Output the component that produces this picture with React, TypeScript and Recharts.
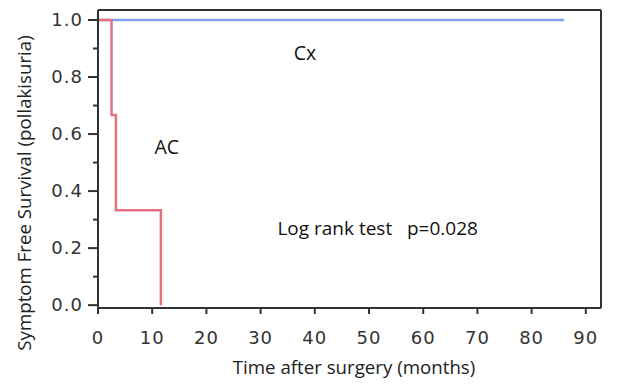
import React from "react";
import {
  LineChart,
  Line,
  XAxis,
  YAxis,
  ReferenceDot,
  ReferenceLine,
} from "recharts";

const acTimes = [0, 2.5, 3.3, 11.6];
const acSurvival = [1, 0.667, 0.333, 0];
const cxTimes = [0, 86];
const cxSurvival = [1, 1];
const xTicks = [0, 10, 20, 30, 40, 50, 60, 70, 80, 90];
const yTicks = [0, 0.1, 0.2, 0.3, 0.4, 0.5, 0.6, 0.7, 0.8, 0.9, 1.0];
const yMajor = [0, 0.2, 0.4, 0.6, 0.8, 1.0];
const xMax = 92.8;
const yMin = -0.01;
const yMax = 1.035;

const acData = acTimes.map((t, i) => ({ t, s: acSurvival[i] }));
const cxData = cxTimes.map((t, i) => ({ t, s: cxSurvival[i] }));

const tickFont = "'DejaVu Sans', sans-serif";
const labelFont = "'Open Sans', sans-serif";
const axisColor = "#333333";

function YTick(props: any) {
  const { x, y, payload } = props;
  const v = payload.value;
  const major = yMajor.some((m) => Math.abs(m - v) < 1e-6);
  return (
    <g>
      <line x1={x - (major ? 10 : 5)} x2={x} y1={y} y2={y} stroke={axisColor} strokeWidth={2} />
      {major && (
        <text
          x={x - 15}
          y={y}
          dy={6}
          textAnchor="end"
          fontFamily={tickFont}
          fontSize={18}
          letterSpacing={1}
          fill="#333"
        >
          {v.toFixed(1)}
        </text>
      )}
    </g>
  );
}

function XTick(props: any) {
  const { x, y, payload } = props;
  return (
    <g>
      <line x1={x} x2={x} y1={y} y2={y + 6} stroke={axisColor} strokeWidth={2} />
      <text
        x={x}
        y={y + 36}
        textAnchor="middle"
        fontFamily={tickFont}
        fontSize={18}
        letterSpacing={1}
        fill="#333"
      >
        {payload.value}
      </text>
    </g>
  );
}

export default function App() {
  return (
    <div style={{ position: "absolute", left: 0, top: 0, background: "#fff" }}>
      <LineChart width={619} height={384} margin={{ top: 10, right: 18, bottom: 0, left: 0 }}>
        <XAxis
          type="number"
          dataKey="t"
          xAxisId="b"
          domain={[0, xMax]}
          ticks={xTicks}
          tick={<XTick />}
          tickLine={false}
          tickSize={0}
          tickMargin={0}
          height={76}
          axisLine={{ stroke: axisColor, strokeWidth: 2 }}
          allowDataOverflow
          label={{
            content: () => (
              <text x={354} y={374} textAnchor="middle" fontFamily={labelFont} fontSize={18.7} fill="#222">
                Time after surgery (months)
              </text>
            ),
          }}
        />
        <YAxis
          type="number"
          dataKey="s"
          yAxisId="l"
          domain={[yMin, yMax]}
          ticks={yTicks}
          tick={<YTick />}
          tickLine={false}
          tickSize={0}
          tickMargin={0}
          width={98}
          axisLine={{ stroke: axisColor, strokeWidth: 2 }}
          allowDataOverflow
          label={{
            content: () => (
              <text
                x={31}
                y={193}
                transform="rotate(-90 31 193)"
                textAnchor="middle"
                fontFamily={labelFont}
                fontSize={18.7}
                fill="#222"
              >
                Symptom Free Survival (pollakisuria)
              </text>
            ),
          }}
        />
        <ReferenceLine xAxisId="b" yAxisId="l" y={yMax} stroke={axisColor} strokeWidth={2} ifOverflow="visible" />
        <ReferenceLine xAxisId="b" yAxisId="l" x={xMax} stroke={axisColor} strokeWidth={2} ifOverflow="visible" />
        <Line
          xAxisId="b"
          yAxisId="l"
          data={cxData}
          dataKey="s"
          type="stepAfter"
          stroke="#85a0f0"
          strokeWidth={2.5}
          dot={false}
          isAnimationActive={false}
        />
        <Line
          xAxisId="b"
          yAxisId="l"
          data={acData}
          dataKey="s"
          type="stepAfter"
          stroke="#e6707f"
          strokeWidth={2.5}
          dot={false}
          isAnimationActive={false}
        />
        <ReferenceDot
          xAxisId="b"
          yAxisId="l"
          x={38.2}
          y={0.884}
          r={0}
          label={{ value: "Cx", position: "center", fontFamily: labelFont, fontSize: 19.5, fill: "#111" }}
        />
        <ReferenceDot
          xAxisId="b"
          yAxisId="l"
          x={12.7}
          y={0.554}
          r={0}
          label={{ value: "AC", position: "center", fontFamily: labelFont, fontSize: 19.5, fill: "#111" }}
        />
        <ReferenceDot
          xAxisId="b"
          yAxisId="l"
          x={51.6}
          y={0.27}
          r={0}
          label={{
            value: "Log rank test\u00a0\u00a0\u00a0p=0.028",
            position: "center",
            fontFamily: labelFont,
            fontSize: 19,
            fill: "#111",
          }}
        />
      </LineChart>
    </div>
  );
}
